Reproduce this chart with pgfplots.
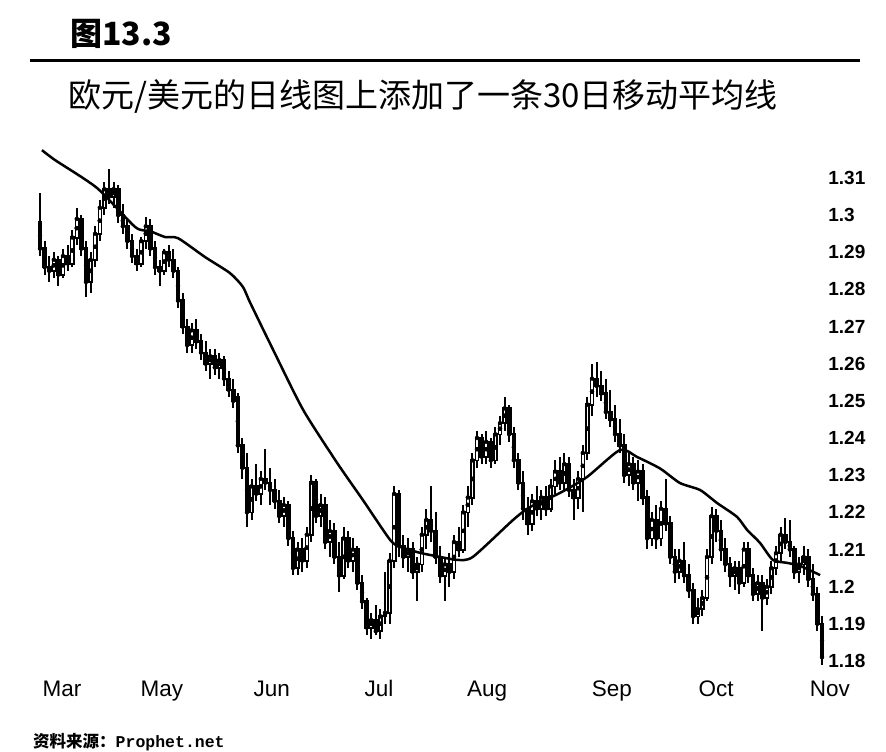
\documentclass[border=0pt]{standalone}
\usepackage{fontspec}
\usepackage{pgfplots}
\usepackage{pgfplotstable}
\pgfplotsset{compat=1.18}
\setmainfont{Liberation Sans}
\newfontfamily\cjk{Noto Sans CJK SC}
\newfontfamily\mono{Liberation Mono}

\pgfplotstableread{
d o h l c
0 1.298 1.306 1.289 1.291
1 1.291 1.293 1.284 1.286
2 1.286 1.289 1.282 1.285
3 1.285 1.290 1.283 1.288
4 1.288 1.289 1.281 1.284
5 1.284 1.291 1.283 1.289
6 1.289 1.292 1.285 1.287
7 1.287 1.296 1.286 1.294
8 1.294 1.302 1.292 1.299
9 1.299 1.300 1.289 1.291
10 1.291 1.293 1.278 1.282
11 1.282 1.290 1.279 1.288
12 1.288 1.297 1.286 1.295
13 1.295 1.304 1.293 1.302
14 1.302 1.309 1.300 1.307
15 1.307 1.3125 1.303 1.305
16 1.305 1.309 1.302 1.307
17 1.307 1.308 1.298 1.300
18 1.300 1.303 1.295 1.297
19 1.297 1.299 1.291 1.293
20 1.293 1.295 1.287 1.289
21 1.289 1.291 1.285 1.287
22 1.287 1.294 1.286 1.293
23 1.293 1.2995 1.291 1.297
24 1.297 1.299 1.289 1.291
25 1.291 1.293 1.284 1.286
26 1.286 1.288 1.281 1.285
27 1.285 1.291 1.284 1.290
28 1.290 1.292 1.286 1.288
29 1.288 1.291 1.283 1.285
30 1.285 1.286 1.275 1.277
31 1.277 1.279 1.268 1.270
32 1.270 1.272 1.263 1.265
33 1.265 1.271 1.263 1.269
34 1.269 1.272 1.264 1.266
35 1.266 1.268 1.261 1.263
36 1.263 1.266 1.258 1.260
37 1.260 1.264 1.256 1.262
38 1.262 1.264 1.257 1.259
39 1.259 1.263 1.256 1.261
40 1.261 1.262 1.254 1.256
41 1.256 1.258 1.251 1.253
42 1.253 1.256 1.248 1.250
43 1.251 1.252 1.236 1.238
44 1.238 1.240 1.229 1.232
45 1.232 1.236 1.216 1.220
46 1.220 1.229 1.218 1.227
47 1.227 1.233 1.223 1.225
48 1.225 1.231 1.222 1.229
49 1.229 1.237 1.226 1.228
50 1.228 1.232 1.222 1.226
51 1.226 1.229 1.221 1.223
52 1.223 1.226 1.217 1.219
53 1.219 1.224 1.216 1.222
54 1.222 1.223 1.211 1.213
55 1.213 1.215 1.203 1.205
56 1.205 1.212 1.203 1.210
57 1.210 1.213 1.204 1.207
58 1.207 1.216 1.205 1.214
59 1.214 1.230 1.212 1.228
60 1.228 1.229 1.217 1.219
61 1.219 1.225 1.216 1.222
62 1.222 1.224 1.210 1.212
63 1.212 1.218 1.208 1.215
64 1.215 1.217 1.206 1.208
65 1.208 1.212 1.1985 1.203
66 1.203 1.216 1.202 1.213
67 1.213 1.215 1.205 1.207
68 1.207 1.213 1.204 1.210
69 1.210 1.211 1.199 1.201
70 1.201 1.203 1.194 1.196
71 1.196 1.197 1.187 1.189
72 1.189 1.193 1.186 1.191
73 1.191 1.195 1.187 1.188
74 1.188 1.194 1.186 1.192
75 1.192 1.204 1.190 1.193
76 1.193 1.209 1.190 1.207
77 1.207 1.227 1.205 1.225
78 1.225 1.226 1.208 1.211
79 1.211 1.214 1.205 1.208
80 1.208 1.213 1.204 1.210
81 1.210 1.212 1.202 1.204
82 1.204 1.208 1.196 1.206
83 1.206 1.216 1.204 1.214
84 1.214 1.221 1.210 1.218
85 1.218 1.227 1.212 1.215
86 1.215 1.220 1.206 1.208
87 1.208 1.211 1.201 1.203
88 1.203 1.208 1.196 1.206
89 1.206 1.209 1.200 1.204
90 1.204 1.214 1.202 1.212
91 1.212 1.216 1.208 1.210
92 1.210 1.222 1.209 1.220
93 1.220 1.227 1.216 1.224
94 1.224 1.236 1.222 1.234
95 1.234 1.242 1.232 1.240
96 1.240 1.241 1.233 1.235
97 1.235 1.242 1.233 1.239
98 1.239 1.240 1.232 1.234
99 1.234 1.243 1.233 1.241
100 1.241 1.246 1.238 1.244
101 1.244 1.251 1.242 1.248
102 1.248 1.249 1.239 1.241
103 1.241 1.243 1.232 1.234
104 1.234 1.236 1.226 1.228
105 1.228 1.231 1.218 1.221
106 1.221 1.224 1.214 1.217
107 1.217 1.225 1.215 1.223
108 1.223 1.227 1.219 1.221
109 1.221 1.226 1.218 1.224
110 1.224 1.227 1.219 1.221
111 1.221 1.229 1.220 1.227
112 1.227 1.234 1.225 1.231
113 1.231 1.235 1.226 1.228
114 1.228 1.236 1.226 1.233
115 1.233 1.235 1.224 1.226
116 1.226 1.229 1.218 1.224
117 1.224 1.231 1.221 1.229
118 1.229 1.238 1.220 1.236
119 1.236 1.251 1.234 1.249
120 1.249 1.260 1.246 1.256
121 1.256 1.2605 1.251 1.254
122 1.254 1.258 1.250 1.252
123 1.252 1.256 1.245 1.247
124 1.247 1.253 1.243 1.245
125 1.245 1.249 1.239 1.241
126 1.241 1.245 1.236 1.238
127 1.238 1.241 1.228 1.230
128 1.230 1.236 1.227 1.233
129 1.233 1.235 1.226 1.228
130 1.228 1.234 1.223 1.231
131 1.231 1.233 1.222 1.224
132 1.224 1.226 1.210 1.213
133 1.213 1.220 1.211 1.218
134 1.218 1.222 1.210 1.213
135 1.213 1.223 1.211 1.221
136 1.221 1.229 1.215 1.217
137 1.217 1.219 1.206 1.208
138 1.208 1.210 1.201 1.204
139 1.204 1.210 1.202 1.207
140 1.207 1.212 1.201 1.203
141 1.203 1.206 1.197 1.199
142 1.199 1.201 1.190 1.192
143 1.192 1.197 1.190 1.194
144 1.194 1.199 1.192 1.197
145 1.197 1.210 1.196 1.208
146 1.208 1.2215 1.206 1.219
147 1.219 1.221 1.212 1.215
148 1.215 1.218 1.207 1.210
149 1.210 1.213 1.204 1.206
150 1.206 1.208 1.200 1.203
151 1.203 1.207 1.199 1.205
152 1.205 1.207 1.198 1.201
153 1.201 1.212 1.200 1.210
154 1.210 1.212 1.201 1.203
155 1.203 1.205 1.196 1.198
156 1.198 1.203 1.196 1.201
157 1.201 1.203 1.188 1.197
158 1.197 1.202 1.195 1.200
159 1.200 1.207 1.198 1.205
160 1.205 1.211 1.203 1.209
161 1.209 1.216 1.207 1.214
162 1.214 1.2185 1.210 1.212
163 1.212 1.218 1.208 1.210
164 1.210 1.211 1.202 1.204
165 1.204 1.208 1.201 1.206
166 1.206 1.211 1.203 1.208
167 1.208 1.210 1.200 1.202
168 1.202 1.206 1.196 1.198
169 1.198 1.200 1.188 1.190
170 1.190 1.192 1.179 1.181
}\candles

\begin{document}
\begin{tikzpicture}
\node[anchor=base west, inner sep=0, font=\cjk\bfseries\fontsize{32}{36}\selectfont] at (70pt,706pt) {图13.3};
\draw[line width=3pt] (30pt,691pt) -- (860pt,691pt);
\node[anchor=base west, inner sep=0, font=\cjk\fontsize{33}{38}\selectfont] at (68pt,644pt) {欧元/美元的日线图上添加了一条30日移动平均线};
\node[anchor=base west, inner sep=0, font=\cjk\bfseries\fontsize{16.5}{18}\selectfont] at (33pt,4pt) {资料来源：{\mono\bfseries Prophet.net}};
\begin{axis}[
  at={(30.8pt,72.5pt)}, anchor=south west, scale only axis,
  width=805pt, height=538.65pt,
  xmin=-2, xmax=173, ymin=1.175, ymax=1.32,
  axis line style={draw=none}, major tick style={draw=none},
  /pgf/number format/assume math mode=true,
  ytick={1.18,1.19,1.2,1.21,1.22,1.23,1.24,1.25,1.26,1.27,1.28,1.29,1.3,1.31},
  yticklabels={1.18,1.19,1.2,1.21,1.22,1.23,1.24,1.25,1.26,1.27,1.28,1.29,1.3,1.31},
  yticklabel pos=right,
  yticklabel style={font=\bfseries\fontsize{19}{22}\selectfont, anchor=west, xshift=-11pt},
  xtick={4.78,26.5,50.4,73.7,97.2,124.3,147,171.7},
  xticklabels={Mar,May,Jun,Jul,Aug,Sep,Oct,Nov},
  xticklabel style={font=\fontsize{22.5}{26}\selectfont, text height=16pt, text depth=4pt, yshift=3pt},
]
% wicks
\addplot[only marks, mark=none, error bars/.cd, y dir=both, y explicit, error mark=none,
  error bar style={draw=black, solid, line width=2pt, line cap=butt}]
  table[x=d, y=c, y error plus expr=\thisrow{h}-\thisrow{c}, y error minus expr=\thisrow{c}-\thisrow{l}] {\candles};
% bodies
\addplot[only marks, mark=none, error bars/.cd, y dir=both, y explicit, error mark=none,
  error bar style={draw=black, solid, line width=4.6pt, line cap=butt}]
  table[x=d, y expr=(\thisrow{o}+\thisrow{c})/2, y error expr=abs(\thisrow{c}-\thisrow{o})/2+0.0003] {\candles};
% hollow interiors of rising days
\addplot[only marks, mark=none, restrict expr to domain={\thisrow{c}-\thisrow{o}}{0.0012:1},
  error bars/.cd, y dir=both, y explicit, error mark=none,
  error bar style={draw=white, solid, line width=1.6pt, line cap=butt}]
  table[x=d, y expr=(\thisrow{o}+\thisrow{c})/2, y error expr=(\thisrow{c}-\thisrow{o})/2-0.0002] {\candles};
% 30-day moving average
\addplot[black, line width=2.5pt, smooth, tension=0.4, mark=none] coordinates {
(0.43,1.3175) (3.3,1.3148) (12.4,1.3073) (20.7,1.2968) (23.9,1.2957) (27.2,1.2941)
(30,1.2938) (35.9,1.2887) (41.3,1.2844) (44.1,1.2807) (45.7,1.2764) (50.7,1.2637)
(57.2,1.2476) (64.6,1.2333) (70.2,1.2233) (76.1,1.2126) (78.3,1.2107) (82.6,1.2091)
(87,1.2080) (90.7,1.2072) (94.1,1.2080) (102.8,1.2179) (106.5,1.2214) (113,1.2252)
(118.9,1.2295) (126.1,1.2368) (129.8,1.2349) (134.8,1.2318) (139.1,1.2279) (143.5,1.2260)
(147.2,1.2225) (151.5,1.2188) (153.7,1.2153) (156.5,1.2118) (159.3,1.2072) (162.4,1.2064)
(165.2,1.2056) (169.6,1.2031)
};
\end{axis}
\pgfresetboundingbox
\path (0pt,0pt) rectangle (886pt,752pt);
\end{tikzpicture}
\end{document}
